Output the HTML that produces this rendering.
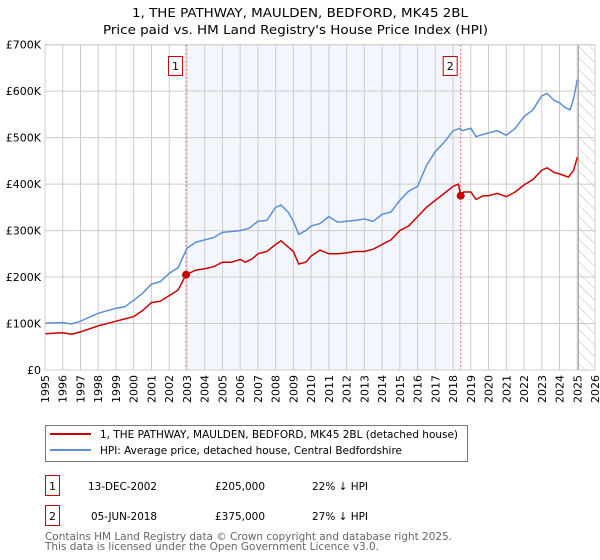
<!DOCTYPE html>
<html><head><meta charset="utf-8"><style>
body{margin:0;background:#fff;font-family:"DejaVu Sans","Liberation Sans",sans-serif;}
svg{display:block}
</style></head><body>
<svg id="c" width="600" height="560" font-family="DejaVu Sans, Liberation Sans, sans-serif">
<text x="132" y="17" font-size="12" textLength="336" lengthAdjust="spacingAndGlyphs">1, THE PATHWAY, MAULDEN, BEDFORD, MK45 2BL</text>
<text x="103" y="34" font-size="12" textLength="385" lengthAdjust="spacingAndGlyphs">Price paid vs. HM Land Registry's House Price Index (HPI)</text>
<defs><pattern id="hatch" width="8" height="8" patternUnits="userSpaceOnUse" patternTransform="rotate(-45)"><line x1="0" y1="0" x2="0" y2="8" stroke="#bbb" stroke-width="1"/></pattern></defs>
<g id="grid"></g><g id="marks"></g><g id="axes"></g>
<g>
<rect x="45.5" y="425.5" width="422" height="36" fill="#fff" stroke="#777"/>
<line x1="50" y1="434" x2="91" y2="434" stroke="#cc0000" stroke-width="2"/>
<text x="100" y="438" font-size="10.5" textLength="358" lengthAdjust="spacingAndGlyphs">1, THE PATHWAY, MAULDEN, BEDFORD, MK45 2BL (detached house)</text>
<line x1="50" y1="450" x2="91" y2="450" stroke="#5b8fd6" stroke-width="2"/>
<text x="100" y="454" font-size="10.5" textLength="302" lengthAdjust="spacingAndGlyphs">HPI: Average price, detached house, Central Bedfordshire</text>
</g>
<g font-size="11">
<rect x="45.5" y="475.5" width="14" height="20" fill="#fff" stroke="#cc0000"/>
<text x="52.5" y="490" text-anchor="middle">1</text>
<text x="88" y="490" textLength="69" lengthAdjust="spacingAndGlyphs">13-DEC-2002</text>
<text x="215" y="490" textLength="50" lengthAdjust="spacingAndGlyphs">£205,000</text>
<text x="312" y="490" textLength="56" lengthAdjust="spacingAndGlyphs">22% ↓ HPI</text>
<rect x="45.5" y="505.5" width="14" height="20" fill="#fff" stroke="#cc0000"/>
<text x="52.5" y="520" text-anchor="middle">2</text>
<text x="91" y="520" textLength="66" lengthAdjust="spacingAndGlyphs">05-JUN-2018</text>
<text x="215" y="520" textLength="50" lengthAdjust="spacingAndGlyphs">£375,000</text>
<text x="312" y="520" textLength="56" lengthAdjust="spacingAndGlyphs">27% ↓ HPI</text>
</g>
<text x="45" y="540" font-size="10.5" fill="#666" textLength="407" lengthAdjust="spacingAndGlyphs">Contains HM Land Registry data © Crown copyright and database right 2025.</text>
<text x="45" y="550" font-size="10.5" fill="#666" textLength="334" lengthAdjust="spacingAndGlyphs">This data is licensed under the Open Government Licence v3.0.</text>
</svg>
<script>
const hpiYears=[1995,1996,1996.5,1997,1998,1999,1999.5,2000,2000.5,2001,2001.5,2002,2002.5,2003,2003.5,2004,2004.5,2005,2005.5,2006,2006.5,2007,2007.5,2008,2008.3,2008.7,2009,2009.3,2009.7,2010,2010.5,2011,2011.5,2012,2012.5,2013,2013.5,2014,2014.5,2015,2015.5,2016,2016.5,2017,2017.5,2018,2018.4,2018.5,2019,2019.3,2019.5,2020,2020.5,2021,2021.5,2022,2022.5,2023,2023.3,2023.7,2024,2024.3,2024.6,2024.8,2025];
const hpiValues=[101,102,99,105,122,133,136,150,165,185,190,208,220,262,275,280,285,296,298,300,305,320,322,350,355,340,320,292,300,310,315,330,318,320,322,325,320,335,340,365,385,395,440,470,490,515,520,515,520,502,505,510,515,505,520,545,560,590,595,580,575,565,560,585,625];
const priceYears=[1995,1996,1996.5,1997,1998,1999,2000,2000.5,2001,2001.5,2002,2002.5,2002.95,2003.5,2004,2004.5,2005,2005.5,2006,2006.3,2006.7,2007,2007.5,2008,2008.3,2008.7,2009,2009.3,2009.7,2010,2010.5,2011,2011.5,2012,2012.5,2013,2013.5,2014,2014.5,2015,2015.5,2016,2016.5,2017,2017.5,2018,2018.3,2018.43,2018.6,2019,2019.3,2019.7,2020,2020.5,2021,2021.5,2022,2022.5,2023,2023.3,2023.7,2024,2024.5,2024.8,2025];
const priceValues=[78,80,77,82,95,105,115,128,145,148,160,172,205,215,218,222,232,232,238,232,240,250,255,270,278,265,255,228,232,245,258,250,250,252,255,255,260,270,280,300,310,330,350,365,380,395,400,375,383,383,367,375,375,380,373,383,398,410,430,435,425,422,415,430,458];
const saleYears=[2002.95,2018.43];
const saleValues=[205,375];
const saleLabels=["1","2"];
const yTicks=[0,100,200,300,400,500,600,700];
const yTickLabels=["£0","£100K","£200K","£300K","£400K","£500K","£600K","£700K"];
const xTicks=[1995,1996,1997,1998,1999,2000,2001,2002,2003,2004,2005,2006,2007,2008,2009,2010,2011,2012,2013,2014,2015,2016,2017,2018,2019,2020,2021,2022,2023,2024,2025,2026];
const L=45,R=595,T=44.7,B=370;
const x=v=>L+(v-1995)*(R-L)/31;
const y=v=>B-v*(B-T)/700;
const NS="http://www.w3.org/2000/svg";
function mk(tag,parent,attrs){const e=document.createElementNS(NS,tag);for(const k in attrs)e.setAttribute(k,attrs[k]);document.getElementById(parent).appendChild(e);return e;}
let e=mk('rect','grid',{x:x(saleYears[0]),y:T,width:x(saleYears[1])-x(saleYears[0]),height:B-T,fill:'#eef3fc',opacity:0.7});


e=mk('rect','grid',{x:x(2025.06),y:T,width:R-x(2025.06),height:B-T,fill:'url(#hatch)'});


yTicks.forEach((t,i)=>{
 const g=mk('line','grid',{x1:L,x2:R,y1:y(t),y2:y(t),stroke:'#ccc'});
 
 
 const tx=mk('text','axes',{x:L-4,y:y(t)+4,'text-anchor':'end','font-size':11});
 tx.textContent=yTickLabels[i];
 
 
});
xTicks.forEach(t=>{
 const g=mk('line','grid',{x1:x(t),x2:x(t),y1:T,y2:B,stroke:'#ccc'});
 
 
 const tx=mk('text','axes',{x:0,y:0,'text-anchor':'end','font-size':11,transform:`translate(${x(t)+4},${B+5}) rotate(-90)`});
 tx.textContent=t;
 
 
});
e=mk('line','grid',{x1:x(2025.06),x2:x(2025.06),y1:T,y2:B,stroke:'#999'});


saleYears.forEach((s,i)=>{
 const l=mk('line','marks',{x1:x(s),x2:x(s),y1:T,y2:B,stroke:'#e06060','stroke-dasharray':'2,2'});
 
 
});
function path(xs,vs){return xs.map((v,i)=>(i?'L':'M')+x(v).toFixed(1)+','+y(vs[i]).toFixed(1)).join('');}
e=mk('path','marks',{d:path(hpiYears,hpiValues),fill:'none',stroke:'#5b8fd6','stroke-width':1.5});


e=mk('path','marks',{d:path(priceYears,priceValues),fill:'none',stroke:'#cc0000','stroke-width':1.5});


saleYears.forEach((s,i)=>{
 const c=mk('circle','marks',{cx:x(s),cy:y(saleValues[i]),r:4,fill:'#cc0000'});
 
 
 const r=mk('rect','marks',{x:x(s)-17.5,y:56.5,width:14,height:19,fill:'#fff',stroke:'#cc0000'});
 
 
 const t=mk('text','marks',{x:x(s)-10.5,y:70,'text-anchor':'middle','font-size':11});
 t.textContent=saleLabels[i];
 
 
});
e=mk('rect','axes',{x:L,y:T,width:R-L,height:B-T,fill:'none',stroke:'#ccc'});


</script>
</body></html>
